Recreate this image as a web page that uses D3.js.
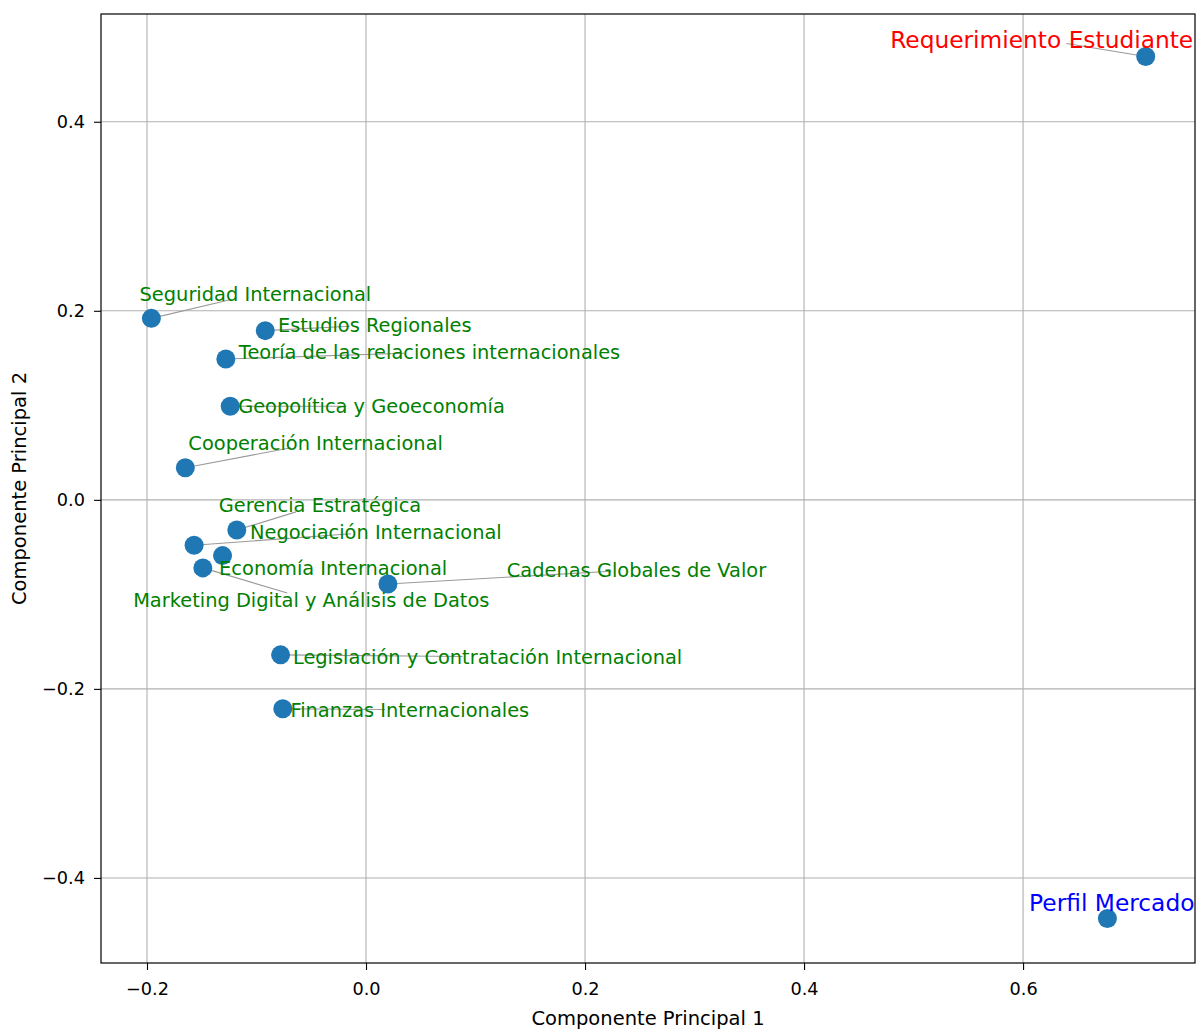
<!DOCTYPE html>
<html><head><meta charset="utf-8">
<script src="https://cdn.jsdelivr.net/npm/d3@7"></script>
<style>body{margin:0;background:#fff}svg{font-family:"DejaVu Sans",sans-serif}</style>
</head><body>
<svg id="c" width="1201" height="1030"></svg>
<script>
const names = ["Requerimiento Estudiante","Perfil Mercado","Seguridad Internacional","Estudios Regionales",
 "Teoría de las relaciones internacionales","Geopolítica y Geoeconomía","Cooperación Internacional",
 "Gerencia Estratégica","Negociación Internacional","Economía Internacional",
 "Marketing Digital y Análisis de Datos","Cadenas Globales de Valor",
 "Legislación y Contratación Internacional","Finanzas Internacionales"];
const pc1 = [0.712,0.677,-0.196,-0.092,-0.128,-0.124,-0.165,-0.118,-0.157,-0.131,-0.149,0.020,-0.078,-0.076];
const pc2 = [0.469,-0.443,0.192,0.179,0.149,0.099,0.034,-0.032,-0.048,-0.059,-0.072,-0.089,-0.164,-0.221];
// label (adjusted) positions, data units
const labelX = [0.617,0.681,-0.101,0.008,0.058,0.005,-0.046,-0.042,0.009,-0.030,-0.050,0.247,0.111,0.040];
const labelY = [0.487,-0.426,0.218,0.185,0.156,0.099,0.060,-0.005,-0.034,-0.072,-0.106,-0.074,-0.166,-0.222];
const labelColor = ["red","blue","green","green","green","green","green","green","green","green","green","green","green","green"];
const showLink = [true,false,true,true,true,true,true,true,true,false,true,true,true,true];
const xTicks = [-0.2,0.0,0.2,0.4,0.6];
const yTicks = [-0.4,-0.2,0.0,0.2,0.4];

const W=1201,H=1030,m={l:101,t:14,r:6,b:67};
const svg=d3.select("#c");
const x=d3.scaleLinear().domain([-0.242,0.757]).range([m.l,W-m.r]);
const y=d3.scaleLinear().domain([-0.490,0.514]).range([H-m.b,m.t]);
const fmt=d=>d3.format(".1f")(d).replace("-","−");

// grid
svg.append("g").selectAll("line").data(xTicks).join("line")
 .attr("x1",d=>x(d)).attr("x2",d=>x(d)).attr("y1",m.t).attr("y2",H-m.b)
 .attr("stroke","#b0b0b0").attr("stroke-width",1.1);
svg.append("g").selectAll("line").data(yTicks).join("line")
 .attr("y1",d=>y(d)).attr("y2",d=>y(d)).attr("x1",m.l).attr("x2",W-m.r)
 .attr("stroke","#b0b0b0").attr("stroke-width",1.1);

// axes
const ax=svg.append("g").attr("transform",`translate(0,${H-m.b})`)
 .call(d3.axisBottom(x).tickValues(xTicks).tickFormat(fmt).tickSize(7).tickPadding(12));
const ay=svg.append("g").attr("transform",`translate(${m.l},0)`)
 .call(d3.axisLeft(y).tickValues(yTicks).tickFormat(fmt).tickSize(7).tickPadding(9));
[ax,ay].forEach(g=>{g.select(".domain").remove();
 g.selectAll("text").attr("font-size",17.7).attr("font-family","DejaVu Sans").attr("fill","#000");
 g.selectAll("line").attr("stroke","#000").attr("stroke-width",1.1);});

// frame
svg.append("rect").attr("x",m.l).attr("y",m.t).attr("width",W-m.r-m.l).attr("height",H-m.b-m.t)
 .attr("fill","none").attr("stroke","#000").attr("stroke-width",1.2);

// axis titles
svg.append("text").attr("x",(m.l+W-m.r)/2).attr("y",1025).attr("text-anchor","middle")
 .attr("font-size",19.5).text("Componente Principal 1");
svg.append("text").attr("transform",`translate(26,${(m.t+H-m.b)/2}) rotate(-90)`).attr("text-anchor","middle")
 .attr("font-size",19.5).text("Componente Principal 2");

const idx=d3.range(names.length);
// connectors
svg.append("g").selectAll("line").data(idx.filter(i=>showLink[i])).join("line")
 .each(function(i){
   const px=x(pc1[i]),py=y(pc2[i]),cx=x(labelX[i]),cy=y(labelY[i]);
   const dx=px-cx,dy=py-cy,L=Math.hypot(dx,dy)||1,s=Math.min(25,L);
   d3.select(this).attr("x1",px).attr("y1",py).attr("x2",cx+dx/L*s).attr("y2",cy+dy/L*s);
 })
 .attr("stroke","#9a9a9a").attr("stroke-width",1.1);

// points
svg.append("g").selectAll("circle").data(idx).join("circle")
 .attr("cx",i=>x(pc1[i])).attr("cy",i=>y(pc2[i])).attr("r",9.5).attr("fill","#1f77b4");

// labels
svg.append("g").selectAll("text").data(idx).join("text")
 .attr("x",i=>x(labelX[i])).attr("y",i=>y(labelY[i])).attr("dy","0.36em")
 .attr("text-anchor","middle").attr("fill",i=>labelColor[i])
 .attr("font-size",i=>i<2?23.3:19.4).text(i=>names[i]);
</script>
</body></html>
